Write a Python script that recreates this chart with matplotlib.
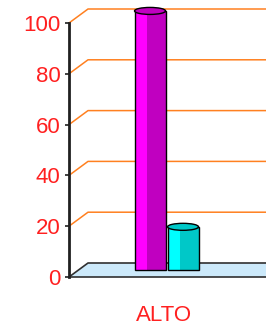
import matplotlib
matplotlib.use('Agg')
import matplotlib.pyplot as plt
from matplotlib.patches import Polygon, Ellipse
from matplotlib.transforms import offset_copy

plt.rcParams['font.family'] = ['Liberation Sans', 'DejaVu Sans']

# 数据
categories = ['ALTO']
series_a = [102]
series_b = [17]
yticks = [0, 20, 40, 60, 80, 100]

W, H, DPI = 266, 326, 100
fig = plt.figure(figsize=(W / DPI, H / DPI), dpi=DPI)
ax = fig.add_axes([69 / W, 49 / H, 197 / W, 254 / H])
ax.set_xlim(-0.49, 0.51)
ax.set_ylim(0, 100)

# 3D 深度（像素换算成数据单位）
px_x = 1.0 / 197
px_y = 100.0 / 254
dx, dy = 19 * px_x, 14 * px_y
x0, x1 = -0.49, 0.51 + 0.2

# 地板
floor = Polygon([(x0, 0), (x0 + dx, dy), (x1, dy), (x1, 0)], closed=True,
                facecolor='#cce9fa', edgecolor='none', zorder=1, clip_on=False)
ax.add_patch(floor)
ax.plot([x0, x0 + dx, x1], [0, dy, dy], color='#303030', lw=1.2, zorder=2, clip_on=False)
ax.plot([x0, x1], [0, 0], color='#303030', lw=1.2, zorder=2, clip_on=False)

# 网格线
for v in yticks[1:]:
    ax.plot([x0, x0 + dx, x1], [v, v + dy, v + dy], color='#ff8020', lw=1.1,
            zorder=1, clip_on=False)

# 柱子（放在中间深度）
bar_tr = offset_copy(ax.transData, fig=fig, x=0, y=7, units='dots')
bw = 31 * px_x
lefts = [-bw, 0.01]
values = [series_a[0], series_b[0]]
light = ['#ff00ff', '#00ffff']
dark = ['#c000c0', '#00c8c8']
cap_h = 7 * px_y
for left, val, lc, dc in zip(lefts, values, light, dark):
    ax.bar([left], [val], width=bw * 0.4, align='edge', color=lc,
           transform=bar_tr, zorder=3, clip_on=False)
    ax.bar([left + bw * 0.4], [val], width=bw * 0.6, align='edge', color=dc,
           transform=bar_tr, zorder=3, clip_on=False)
    ax.bar([left], [val], width=bw, align='edge', facecolor='none',
           edgecolor='black', lw=1, transform=bar_tr, zorder=4, clip_on=False)
    ax.add_patch(Ellipse((left + bw / 2, val), bw, cap_h, facecolor=dc,
                         edgecolor='black', lw=1, transform=bar_tr, zorder=5,
                         clip_on=False))

# 坐标轴
for s in ['top', 'right', 'bottom']:
    ax.spines[s].set_visible(False)
ax.spines['left'].set_linewidth(2)
ax.spines['left'].set_color('#202020')
ax.set_yticks(yticks)
ax.set_yticklabels([str(t) for t in yticks])
ax.tick_params(axis='y', colors='#202020', labelcolor='#ff2020', length=3,
               width=1.2, labelsize=16, pad=3)
ax.set_xticks([-0.01])
ax.set_xticklabels(categories)
ax.tick_params(axis='x', length=0, labelcolor='#ff2020', labelsize=16, pad=20)

fig.savefig('out.png', dpi=DPI)
